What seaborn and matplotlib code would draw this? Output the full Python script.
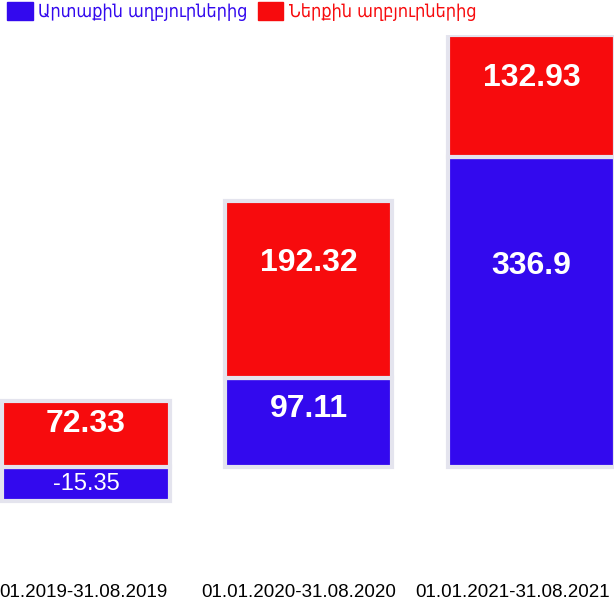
import matplotlib
matplotlib.use("Agg")
import matplotlib.pyplot as plt
import matplotlib.transforms as mtransforms
import seaborn as sns
import numpy as np
import pandas as pd

# values
periods = ["01.2019-31.08.2019", "01.01.2020-31.08.2020", "01.01.2021-31.08.2021"]
external = [-15.35, 97.11, 336.9]
internal = [72.33, 192.32, 132.93]
series_names = ["Արտաքին աղբյուրներից", "Ներքին աղբյուրներից"]

blue = "#3309ee"
red = "#f70b0d"
edge = "#e4e4ee"

sns.set_theme(style="white")
plt.rcParams["font.family"] = ["Liberation Sans", "DejaVu Sans"]

df = pd.DataFrame({"period": periods, "external": external, "internal": internal})
# red segment starts at the top of the blue one, or at zero if blue is negative
df["bottom"] = df["external"].clip(lower=0)

fig = plt.figure(figsize=(6.14, 6.09), dpi=100)
ax = fig.add_axes([0, 1 - 578 / 609, 1, (578 - 35) / 609])

# the original stretches the part below zero
neg_k = 2.4
def fwd(y):
    y = np.asarray(y, dtype=float)
    return np.where(y < 0, y * neg_k, y)
def inv(y):
    y = np.asarray(y, dtype=float)
    return np.where(y < 0, y / neg_k, y)
ax.set_yscale("function", functions=(fwd, inv))

sns.barplot(data=df, x="period", y="external", color=blue, saturation=1,
            width=0.75, edgecolor=edge, linewidth=3, ax=ax)
sns.barplot(data=df, x="period", y="internal", color=red, saturation=1,
            width=0.75, edgecolor=edge, linewidth=3, bottom=df["bottom"].values, ax=ax)

# value labels inside the segments (a bit above the middle, like the original)
for i, row in df.iterrows():
    e = row["external"]
    if e < 0:
        ax.text(i, e / 2, f"{e:g}", color="white", ha="center", va="center", fontsize=17)
    else:
        ax.text(i, e * 0.65, f"{e:g}", color="white", ha="center", va="center",
                fontsize=23, fontweight="bold")
    ax.text(i, row["bottom"] + row["internal"] * 0.65, f"{row['internal']:g}", color="white",
            ha="center", va="center", fontsize=23, fontweight="bold")

ax.set_xlim(-0.386, 2.37)
ax.set_ylim(-120.7 / neg_k, 469.83)
ax.set_xlabel("")
ax.set_ylabel("")
ax.set_yticks([])
ax.tick_params(axis="x", length=0, pad=4, labelsize=13.5, labelcolor="black")
sns.despine(ax=ax, left=True, bottom=True)
ax.set_facecolor("white")

# tick labels sit a little left of the bar centres in the reference
for lab, dx in zip(ax.get_xticklabels(), [-3, -10, -19]):
    lab.set_transform(lab.get_transform() + mtransforms.ScaledTranslation(dx / 100, 0, fig.dpi_scale_trans))

handles = [plt.Rectangle((0, 0), 1, 1, color=blue), plt.Rectangle((0, 0), 1, 1, color=red)]
fig.legend(handles, series_names, loc="upper left", bbox_to_anchor=(0, 1.008), ncol=2,
           frameon=False, prop={"family": "DejaVu Sans", "stretch": "condensed", "size": 13},
           handlelength=1.4, handleheight=1.1,
           handletextpad=0.3, columnspacing=0.6, borderaxespad=0.0,
           labelcolor=[blue, red])

fig.savefig("out.png", dpi=100, facecolor="white")
